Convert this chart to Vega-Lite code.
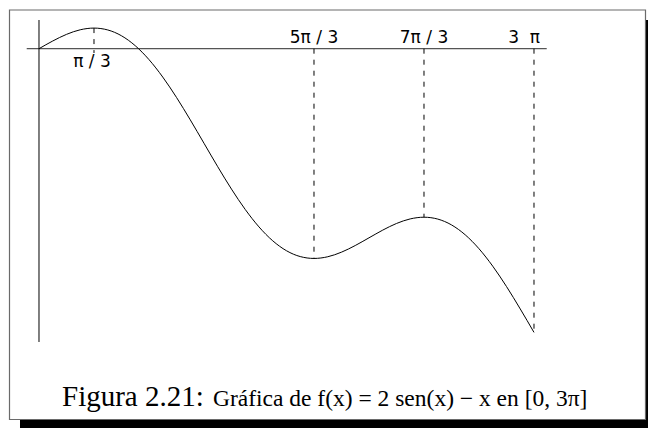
{
  "$schema": "https://vega.github.io/schema/vega-lite/v6.json",
  "width": 648,
  "height": 428,
  "padding": 0,
  "autosize": {"type": "none"},
  "background": "white",
  "config": {"view": {"stroke": null}},
  "datasets": {
    "one": [{}],
    "curve": [
      {"x": 0, "y": 0},
      {"x": 0.261799, "y": 0.255839},
      {"x": 0.523599, "y": 0.476401},
      {"x": 0.785398, "y": 0.628816},
      {"x": 1.047198, "y": 0.684853},
      {"x": 1.308997, "y": 0.622855},
      {"x": 1.570796, "y": 0.429204},
      {"x": 1.832596, "y": 0.099256},
      {"x": 2.094395, "y": -0.362344},
      {"x": 2.356194, "y": -0.94198},
      {"x": 2.617994, "y": -1.617994},
      {"x": 2.879793, "y": -2.362155},
      {"x": 3.141593, "y": -3.141593},
      {"x": 3.403392, "y": -3.92103},
      {"x": 3.665191, "y": -4.665191},
      {"x": 3.926991, "y": -5.341205},
      {"x": 4.18879, "y": -5.920841},
      {"x": 4.45059, "y": -6.382442},
      {"x": 4.712389, "y": -6.712389},
      {"x": 4.974188, "y": -6.90604},
      {"x": 5.235988, "y": -6.968039},
      {"x": 5.497787, "y": -6.912001},
      {"x": 5.759587, "y": -6.759587},
      {"x": 6.021386, "y": -6.539024},
      {"x": 6.283185, "y": -6.283185},
      {"x": 6.544985, "y": -6.027347},
      {"x": 6.806784, "y": -5.806784},
      {"x": 7.068583, "y": -5.654369},
      {"x": 7.330383, "y": -5.598332},
      {"x": 7.592182, "y": -5.66033},
      {"x": 7.853982, "y": -5.853982},
      {"x": 8.115781, "y": -6.183929},
      {"x": 8.37758, "y": -6.645529},
      {"x": 8.63938, "y": -7.225166},
      {"x": 8.901179, "y": -7.901179},
      {"x": 9.162979, "y": -8.645341},
      {"x": 9.424778, "y": -9.424778}
    ],
    "guides": [
      {"x": 1.047198, "top": 0.684853, "bottom": -0.143},
      {"x": 5.235988, "top": 0, "bottom": -6.968039},
      {"x": 7.330383, "top": 0, "bottom": -5.598332},
      {"x": 9.424778, "top": 0, "bottom": -9.424778}
    ],
    "labelsAbove": [
      {"x": 5.235988, "label": "5π / 3"},
      {"x": 7.330383, "label": "7π / 3"}
    ]
  },
  "layer": [
    {
      "data": {"name": "one"},
      "mark": {"type": "rect", "fill": "black"},
      "encoding": {
        "x": {"datum": -0.36176, "type": "quantitative", "scale": {"domain": [-0.74256, 11.5954], "nice": false, "zero": false}, "axis": null},
        "x2": {"datum": 11.8},
        "y": {"datum": 0.95349, "type": "quantitative", "scale": {"domain": [-12.60133, 1.61794], "nice": false, "zero": false}, "axis": null},
        "y2": {"datum": -12.8}
      }
    },
    {
      "data": {"name": "one"},
      "mark": {"type": "rect", "fill": "white", "stroke": "#6a6a6a", "strokeWidth": 1.2},
      "encoding": {
        "x": {"datum": -0.56168, "type": "quantitative", "scale": {"domain": [-0.74256, 11.5954], "nice": false, "zero": false}, "axis": null},
        "x2": {"datum": 11.54776},
        "y": {"datum": 1.28571, "type": "quantitative", "scale": {"domain": [-12.60133, 1.61794], "nice": false, "zero": false}, "axis": null},
        "y2": {"datum": -12.31894}
      }
    },
    {
      "data": {"name": "one"},
      "mark": {"type": "rule", "stroke": "#555555", "strokeWidth": 1.3},
      "encoding": {
        "x": {"datum": -0.234, "type": "quantitative", "scale": {"domain": [-0.74256, 11.5954], "nice": false, "zero": false}, "axis": null},
        "x2": {"datum": 9.667},
        "y": {"datum": 0, "type": "quantitative", "scale": {"domain": [-12.60133, 1.61794], "nice": false, "zero": false}, "axis": null}
      }
    },
    {
      "data": {"name": "one"},
      "mark": {"type": "rule", "stroke": "black", "strokeWidth": 1},
      "encoding": {
        "x": {"datum": 0, "type": "quantitative", "scale": {"domain": [-0.74256, 11.5954], "nice": false, "zero": false}, "axis": null},
        "y": {"datum": 0.953, "type": "quantitative", "scale": {"domain": [-12.60133, 1.61794], "nice": false, "zero": false}, "axis": null},
        "y2": {"datum": -9.744}
      }
    },
    {
      "data": {"name": "guides"},
      "mark": {"type": "rule", "stroke": "black", "strokeWidth": 1, "strokeDash": [5, 6]},
      "encoding": {
        "x": {"field": "x", "type": "quantitative", "scale": {"domain": [-0.74256, 11.5954], "nice": false, "zero": false}, "axis": null},
        "y": {"field": "top", "type": "quantitative", "scale": {"domain": [-12.60133, 1.61794], "nice": false, "zero": false}, "axis": null},
        "y2": {"field": "bottom"}
      }
    },
    {
      "data": {"name": "curve"},
      "mark": {"type": "line", "stroke": "black", "strokeWidth": 1, "interpolate": "monotone"},
      "encoding": {
        "x": {"field": "x", "type": "quantitative", "scale": {"domain": [-0.74256, 11.5954], "nice": false, "zero": false}, "axis": null},
        "y": {"field": "y", "type": "quantitative", "scale": {"domain": [-12.60133, 1.61794], "nice": false, "zero": false}, "axis": null}
      }
    },
    {
      "data": {"name": "one"},
      "mark": {"type": "text", "font": "DejaVu Sans", "fontSize": 17, "align": "center", "baseline": "alphabetic", "dx": -2, "color": "black"},
      "encoding": {
        "x": {"datum": 1.047198, "type": "quantitative", "scale": {"domain": [-0.74256, 11.5954], "nice": false, "zero": false}, "axis": null},
        "y": {"datum": -0.608, "type": "quantitative", "scale": {"domain": [-12.60133, 1.61794], "nice": false, "zero": false}, "axis": null},
        "text": {"value": "π / 3"}
      }
    },
    {
      "data": {"name": "labelsAbove"},
      "mark": {"type": "text", "font": "DejaVu Sans", "fontSize": 17, "align": "center", "baseline": "alphabetic", "color": "black"},
      "encoding": {
        "x": {"field": "x", "type": "quantitative", "scale": {"domain": [-0.74256, 11.5954], "nice": false, "zero": false}, "axis": null},
        "y": {"datum": 0.189, "type": "quantitative", "scale": {"domain": [-12.60133, 1.61794], "nice": false, "zero": false}, "axis": null},
        "text": {"field": "label"}
      }
    },
    {
      "data": {"name": "one"},
      "mark": {"type": "text", "font": "DejaVu Sans", "fontSize": 17, "align": "right", "baseline": "alphabetic", "dx": 6, "color": "black"},
      "encoding": {
        "x": {"datum": 9.424778, "type": "quantitative", "scale": {"domain": [-0.74256, 11.5954], "nice": false, "zero": false}, "axis": null},
        "y": {"datum": 0.189, "type": "quantitative", "scale": {"domain": [-12.60133, 1.61794], "nice": false, "zero": false}, "axis": null},
        "text": {"value": "3\u00a0\u00a0π"}
      }
    },
    {
      "data": {"name": "one"},
      "mark": {"type": "text", "font": "Liberation Serif", "fontSize": 29, "align": "left", "baseline": "alphabetic", "color": "black"},
      "encoding": {
        "x": {"datum": 0.43792, "type": "quantitative", "scale": {"domain": [-0.74256, 11.5954], "nice": false, "zero": false}, "axis": null},
        "y": {"datum": -11.8704, "type": "quantitative", "scale": {"domain": [-12.60133, 1.61794], "nice": false, "zero": false}, "axis": null},
        "text": {"value": "Figura 2.21:"}
      }
    },
    {
      "data": {"name": "one"},
      "mark": {"type": "text", "font": "Liberation Serif", "fontSize": 23.5, "align": "left", "baseline": "alphabetic", "color": "black"},
      "encoding": {
        "x": {"datum": 3.31296, "type": "quantitative", "scale": {"domain": [-0.74256, 11.5954], "nice": false, "zero": false}, "axis": null},
        "y": {"datum": -11.8704, "type": "quantitative", "scale": {"domain": [-12.60133, 1.61794], "nice": false, "zero": false}, "axis": null},
        "text": {"value": "Gráfica de f(x) = 2 sen(x) − x en [0, 3π]"}
      }
    }
  ]
}
